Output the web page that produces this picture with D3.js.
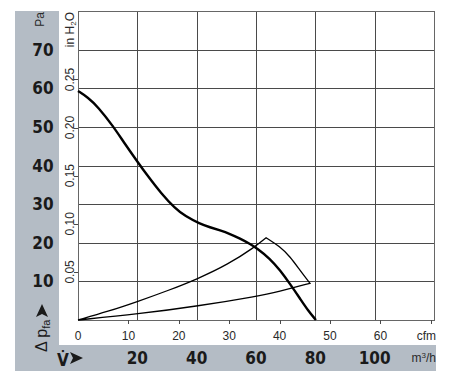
<!DOCTYPE html>
<html>
<head>
<meta charset="utf-8">
<script src="https://cdn.jsdelivr.net/npm/d3@7"></script>
<style>
  body { margin: 0; background: #fff; }
  svg { display: block; }
  .bold { font-family: "Liberation Sans Narrow", "DejaVu Sans Condensed", "Roboto Condensed", sans-serif; font-weight: bold; font-size: 17px; fill: #1a1a1a; }
  .reg { font-family: "Liberation Sans Narrow", "Liberation Sans", Arial, sans-serif; font-size: 12px; fill: #2a2a2a; }
</style>
</head>
<body>
<div id="chart"></div>
<script>
// Fan curve: flow in m3/h, pressure in Pa
const fanCurve = [
  [0, 59.3], [3.4, 57.6], [6.7, 55.2], [11.8, 50.2], [15.2, 46.3], [20.2, 40.8],
  [23.6, 37.2], [28.0, 32.8], [32.7, 28.9], [36.1, 26.9], [41.1, 24.9],
  [44.5, 24.0], [47.9, 23.2], [51.2, 22.3], [54.6, 21.1], [58.0, 19.7], [60.3, 18.6],
  [64.7, 15.9], [68.1, 12.9], [71.5, 9.3], [74.8, 5.6], [77.5, 2.5], [80.2, 0]
];
// Operating range: upper system curve, arc, lower system curve
const upperSystem = [[0, 0], [10.1, 2.2], [20.2, 4.8], [30.3, 7.6], [40.2, 10.6], [50.6, 14.4], [59.6, 18.9], [63.4, 21.3]];
const rangeArc = [[63.4, 21.3], [68.1, 19.0], [71.5, 16.4], [74.8, 12.9], [78.2, 9.5]];
const lowerSystem = [[78.2, 9.5], [67.4, 7.3], [60.7, 6.2], [40.4, 3.6], [20.2, 1.55], [0, 0]];

const paTicks = [10, 20, 30, 40, 50, 60, 70];
const m3hTicks = [20, 40, 60, 80, 100];
const cfmTicks = [0, 10, 20, 30, 40, 50, 60];
const cfmMarks = [10, 20, 30, 40, 50, 60, 70];
const inH2OTicks = [0.05, 0.10, 0.15, 0.20, 0.25];

const W = 451, H = 387;
const band = "#b4bcc5";

const svg = d3.select("#chart").append("svg").attr("width", W).attr("height", H);

const x = d3.scaleLinear().domain([0, 120]).range([78, 434]);
const y = d3.scaleLinear().domain([0, 80]).range([320, 11]);
const xCfm = d3.scaleLinear().domain([0, 120 / 1.699]).range([78, 434]);
const yIn = d3.scaleLinear().domain([0, 80 / 249.089]).range([320, 11]);

// gray L-shaped band
svg.append("rect").attr("x", 15).attr("y", 11).attr("width", 44).attr("height", 360).attr("fill", band);
svg.append("rect").attr("x", 15).attr("y", 345).attr("width", 421).attr("height", 26).attr("fill", band);

// grid
const grid = svg.append("g").attr("stroke", "#4a4a4a").attr("stroke-width", 1).attr("shape-rendering", "crispEdges");
paTicks.forEach(d => grid.append("line").attr("x1", x(0)).attr("x2", x(120)).attr("y1", Math.round(y(d)) + 0.5).attr("y2", Math.round(y(d)) + 0.5));
m3hTicks.forEach(d => grid.append("line").attr("x1", Math.round(x(d)) + 0.5).attr("x2", Math.round(x(d)) + 0.5).attr("y1", y(0)).attr("y2", y(80)));
grid.append("rect").attr("x", x(0) + 0.5).attr("y", y(80) + 0.5).attr("width", x(120) - x(0)).attr("height", y(0) - y(80)).attr("fill", "none").attr("stroke", "#666");

// cfm tick marks and labels
cfmMarks.forEach(d => grid.append("line").attr("x1", Math.round(xCfm(d)) + 0.5).attr("x2", Math.round(xCfm(d)) + 0.5).attr("y1", 320).attr("y2", 324));
svg.append("g").selectAll("text").data(cfmTicks).join("text")
  .attr("class", "reg").attr("x", d => xCfm(d)).attr("y", 340).attr("text-anchor", "middle").text(d => d);
svg.append("text").attr("class", "reg").attr("x", 436).attr("y", 340).attr("text-anchor", "end").text("cfm");

// in H2O ticks and labels
inH2OTicks.forEach(d => grid.append("line").attr("x1", 74).attr("x2", 78).attr("y1", Math.round(yIn(d)) + 0.5).attr("y2", Math.round(yIn(d)) + 0.5));
svg.append("g").selectAll("text").data(inH2OTicks).join("text")
  .attr("class", "reg")
  .attr("transform", d => `translate(74,${yIn(d)}) rotate(-90)`)
  .attr("text-anchor", "middle").text(d => d.toFixed(2));
svg.append("text").attr("class", "reg").attr("transform", "translate(74,12) rotate(-90)")
  .attr("text-anchor", "end").html('in H<tspan font-size="8" dy="2">2</tspan><tspan dy="-2">O</tspan>');

// Pa labels
svg.append("g").selectAll("text").data(paTicks).join("text")
  .attr("class", "bold").attr("x", 43).attr("y", d => y(d) + 6).attr("text-anchor", "middle").text(d => d);
svg.append("text").attr("class", "reg").attr("transform", "translate(44,12) rotate(-90)")
  .attr("text-anchor", "end").text("Pa");

// m3/h labels
svg.append("g").selectAll("text").data(m3hTicks).join("text")
  .attr("class", "bold").attr("x", d => x(d)).attr("y", 364).attr("text-anchor", "middle").text(d => d);
svg.append("text").attr("class", "reg").attr("x", 436).attr("y", 362).attr("text-anchor", "end")
  .html('m<tspan font-size="8" dy="-4">3</tspan><tspan dy="4">/h</tspan>');

// axis names
const arrow = "M0,-6 L13,0 L0,6 L3,0 Z";
svg.append("text").attr("class", "bold").attr("x", 63).attr("y", 366).attr("text-anchor", "middle").style("font-size", "17px").text("V\u0307");
svg.append("path").attr("d", arrow).attr("transform", "translate(70,358)").attr("fill", "#1a1a1a");
const dp = svg.append("text").attr("class", "reg").attr("transform", "translate(47,352) rotate(-90)")
  .style("font-size", "16px").style("fill", "#1a1a1a");
dp.append("tspan").text("\u0394 p");
dp.append("tspan").style("font-size", "11px").attr("dy", 3).text("fa");
svg.append("path").attr("d", arrow).attr("transform", "translate(42,317) rotate(-90)").attr("fill", "#1a1a1a");

// curves
const line = d3.line().x(d => x(d[0])).y(d => y(d[1])).curve(d3.curveBasis);
svg.append("path").attr("d", line(upperSystem) + line(rangeArc).replace("M", "L") + line(lowerSystem).replace("M", "L"))
  .attr("fill", "none").attr("stroke", "#000").attr("stroke-width", 1.3).attr("stroke-linejoin", "miter");
svg.append("path").attr("d", line(fanCurve)).attr("fill", "none").attr("stroke", "#000").attr("stroke-width", 2.4);
</script>
</body>
</html>
